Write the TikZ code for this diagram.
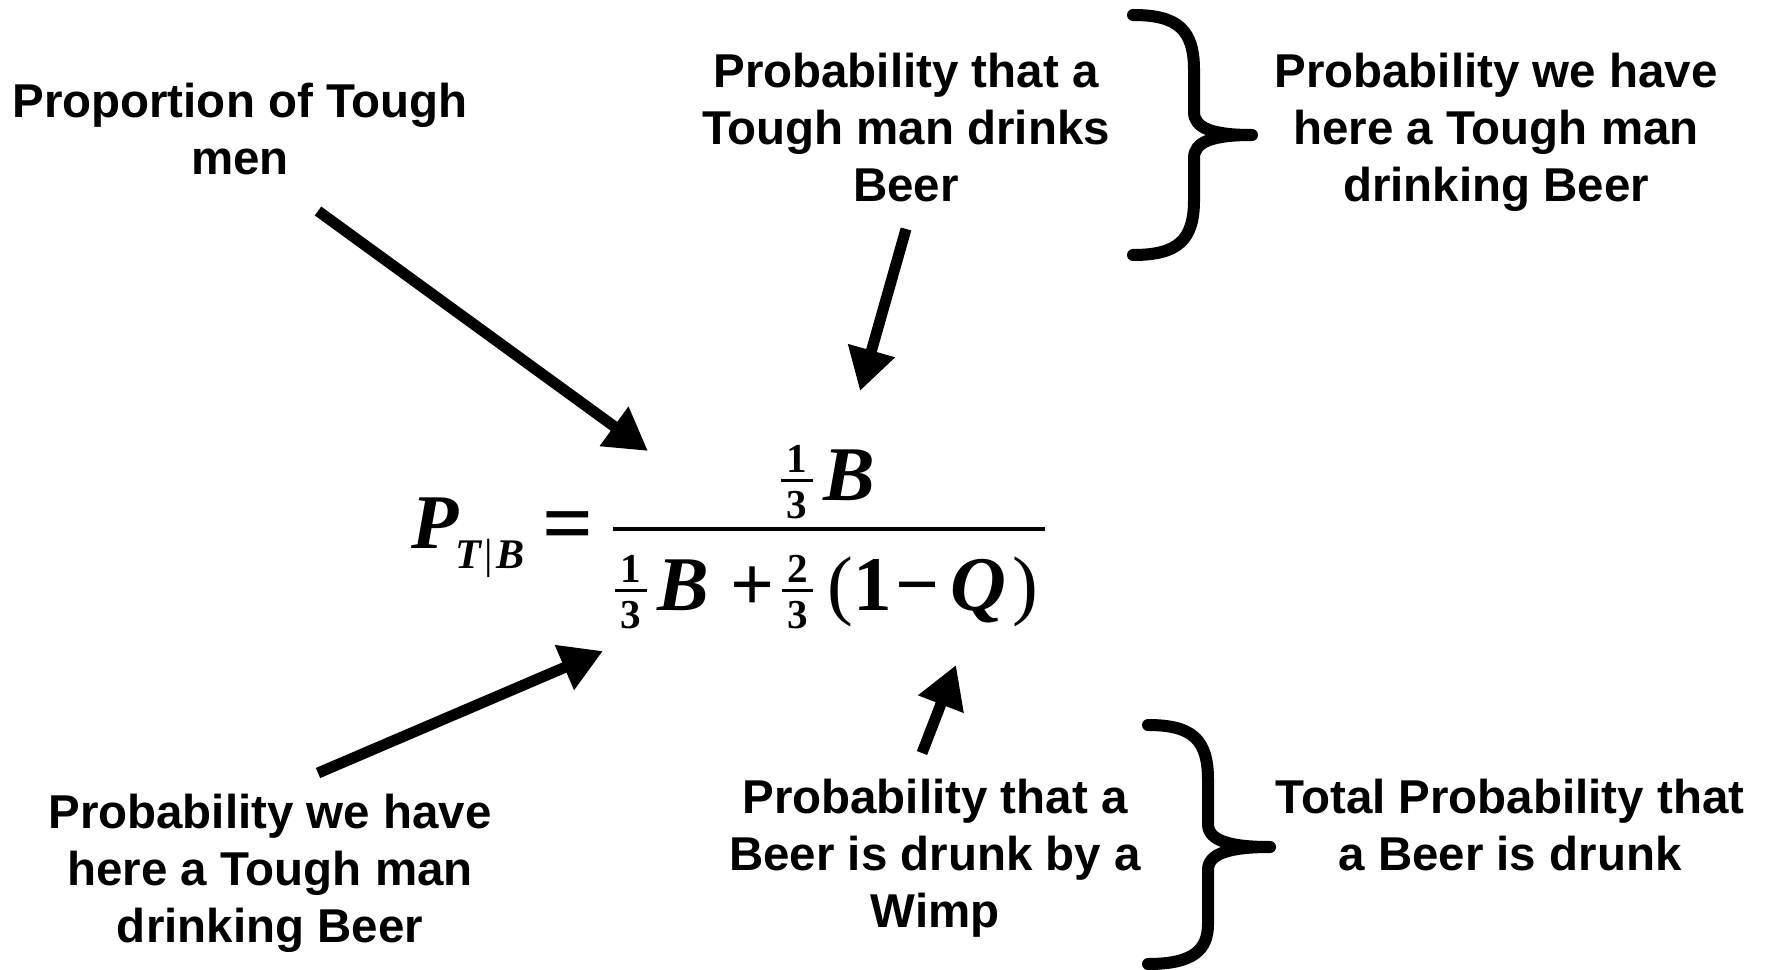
\documentclass[tikz,border=0pt]{standalone}
\usepackage{amsmath}
\usepackage{fontspec}
\setmainfont{Liberation Sans}
\newfontfamily\eqfont{Liberation Serif}
\usetikzlibrary{arrows.meta,calc,positioning}
\newcommand{\eqvar}[1]{\hbox{\eqfont\bfseries\itshape #1}}
\newcommand{\eqnum}[1]{\hbox{\eqfont\bfseries #1}}
\newcommand{\eqparen}[1]{\hbox{\eqfont #1}}
\newcommand{\eqsmall}[1]{\hbox{\fontsize{11.7}{13}\selectfont\eqfont\bfseries #1}}
\newcommand{\eqthird}[1]{\mathord{\vcenter{\offinterlineskip
  \halign{\hfil\kern1.6pt##\kern1.6pt\hfil\cr\eqsmall{#1}\cr
  \noalign{\kern2pt\hrule height0.8pt\kern2.6pt}\eqsmall{3}\cr}}}}
\tikzset{
  notetext/.style={align=center,inner sep=0pt,font=\fontsize{13.5}{16.2}\selectfont\bfseries},
  eqtext/.style={inner sep=0pt,anchor=base,font=\fontsize{22}{26}\selectfont},
  pointer/.style={-{Triangle[length=0.42cm,width=0.46cm]},line width=0.11cm},
  bracepath/.style={line width=0.12cm,line cap=round,line join=round}
}
\begin{document}
\begin{tikzpicture}[x=0.01cm,y=-0.01cm]
\useasboundingbox (0,0) rectangle (1767,970);
% the equation
\node[eqtext,anchor=base west] (lhsN) at (411,548)
  {$\eqvar{P}\kern-1pt\lower5.7pt\hbox{\fontsize{12}{14}\selectfont\eqfont\bfseries\itshape T\kern1pt{\upshape\mdseries|}\kern1pt B}\kern5pt
   \lower1.5pt\hbox{\fontsize{25.5}{28}\selectfont\eqfont\bfseries =}$};
\node[eqtext] (numN) at (828,500) {$\eqthird{1}\kern3pt\eqvar{B}$};
\node[eqtext] (denN) at (827,610)
  {$\eqthird{1}\kern3pt\eqvar{B}\kern6pt\eqnum{+}\kern2pt\eqthird{2}\kern4pt\eqparen{(}\eqnum{1}\kern1pt\eqnum{\symbol{"2212}}\kern3pt\eqvar{Q}\kern2pt\eqparen{)}$};
\coordinate (barL) at (613,529);
\coordinate (barR) at (1045,529);
\draw[line width=0.035cm] (barL) -- (barR);
% explanations
\node[notetext] (propN) at (240,129) {Proportion of Tough\\men};
\node[notetext] (toughN) at (906,128) {Probability that a\\Tough man drinks\\Beer};
\node[notetext] (jointTopN) at (1496,132.5) {Probability we have\\here a Tough man\\drinking Beer};
\node[notetext] (jointBotN) at (270,873) {Probability we have\\here a Tough man\\drinking Beer};
\node[notetext] (wimpN) at (935,858) {Probability that a\\Beer is drunk by a\\Wimp};
\node[notetext] (totalN) at (1510,825) {Total Probability that\\a Beer is drunk};
% arrow ends
\coordinate (propTail) at (318,211);
\coordinate (propTip) at (648,451);
\coordinate (toughTail) at (906,229);
\coordinate (toughTip) at (860,391);
\coordinate (jointTail) at (318,773);
\coordinate (jointTip) at (603,651);
\coordinate (wimpTail) at (922,753);
\coordinate (wimpTip) at (956,665);
\draw[pointer] (propTail) -- (propTip);
\draw[pointer] (toughTail) -- (toughTip);
\draw[pointer] (jointTail) -- (jointTip);
\draw[pointer] (wimpTail) -- (wimpTip);
% braces
\draw[bracepath] (1133,15) .. controls (1178,15) and (1194,30) .. (1194,70) -- (1194,112)
  .. controls (1194,128) and (1212,135) .. (1252,135)
  .. controls (1212,135) and (1194,142) .. (1194,158) -- (1194,200)
  .. controls (1194,240) and (1178,255) .. (1133,255);
\draw[bracepath] (1148,725) .. controls (1193,725) and (1208,740) .. (1208,780) -- (1208,824)
  .. controls (1208,840) and (1228,847) .. (1270,847)
  .. controls (1228,847) and (1208,854) .. (1208,870) -- (1208,924)
  .. controls (1208,950) and (1193,964) .. (1148,964);
\end{tikzpicture}
\end{document}
